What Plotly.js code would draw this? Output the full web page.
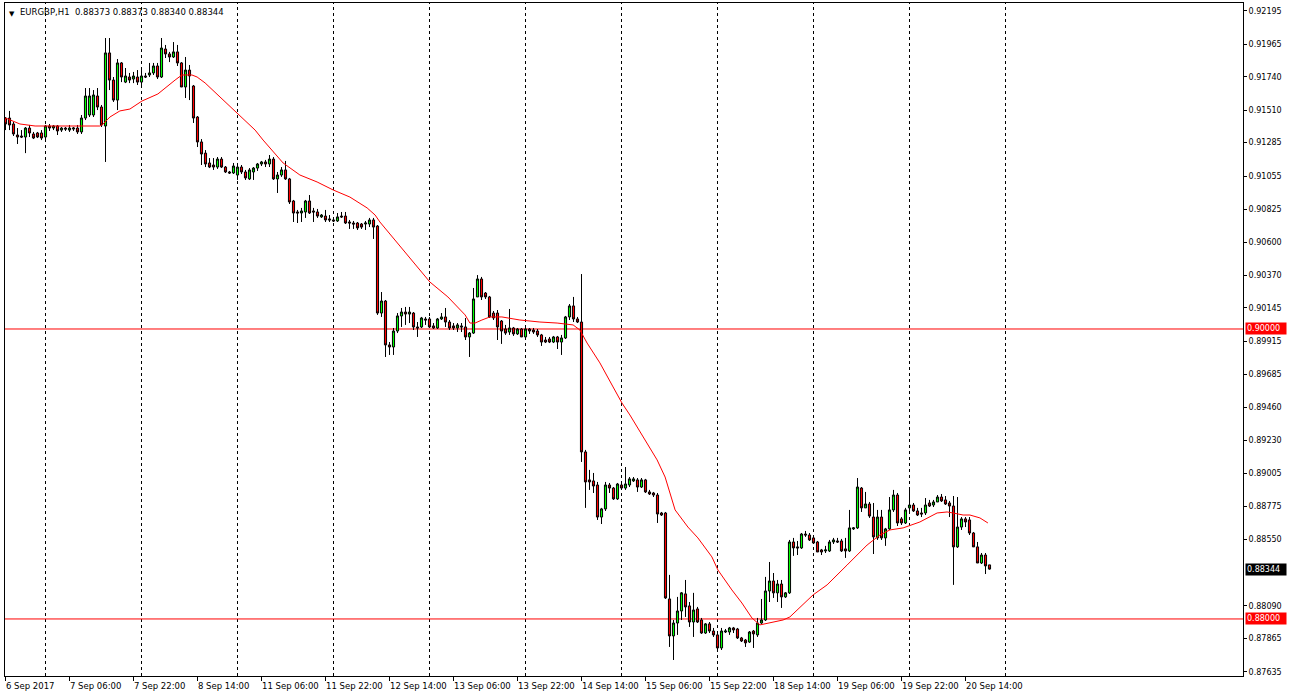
<!DOCTYPE html>
<html><head><meta charset="utf-8">
<script src="https://cdn.plot.ly/plotly-3.0.1.min.js"></script>
<style>html,body{margin:0;padding:0;background:#fff;}#chart{width:1289px;height:698px;}</style>
</head><body><div id="chart"></div>
<script>
const symbol = "EURGBP,H1";

const open = [.91455,.91455,.91414,.91338,.91331,.91324,.91386,.91345,.91352,.91352,.91324,.91400,.91386,.91400,.91372,.91386,.91372,.91379,.91386,.91359,
.91455,.91476,.91476,.91607,.91531,.91400,.91904,.91717,.91579,.91835,.91703,.91738,.91724,.91738,.91703,.91745,.91752,.91766,.91814,.91738,
.91931,.91897,.91876,.91911,.91835,.91669,.91786,.91676,.91462,.91290,.91213,.91145,.91131,.91117,.91172,.91117,.91083,.91076,.91062,.91117,
.91083,.91035,.91083,.91110,.91138,.91152,.91138,.91172,.91035,.91062,.91097,.91035,.90883,.90807,.90800,.90807,.90883,.90814,.90807,.90773,
.90779,.90759,.90752,.90745,.90779,.90779,.90738,.90731,.90731,.90724,.90724,.90724,.90752,.90710,.90110,.90193,.89890,.89876,.89986,.90090,
.90117,.90103,.90110,.90014,.90014,.90069,.90069,.90021,.90007,.90069,.90083,.90048,.90021,.90007,.90021,.90014,.89945,.89972,.90221,.90345,
.90248,.90221,.90110,.90110,.90055,.90000,.89979,.90007,.89966,.90000,.89945,.90000,.89993,.89986,.89959,.89924,.89931,.89910,.89945,.89910,
.89938,.90083,.90159,.90069,.90048,.89152,.88959,.88952,.88924,.88703,.88759,.88924,.88903,.88828,.88924,.88903,.88924,.88952,.88959,.88910,
.88959,.88876,.88869,.88855,.88731,.88731,.88138,.87883,.87972,.88055,.88173,.88090,.87979,.88069,.87993,.87903,.87966,.87917,.87890,.87800,
.87910,.87910,.87938,.87931,.87869,.87855,.87841,.87917,.87890,.87972,.87993,.88193,.88262,.88180,.88241,.88152,.88180,.88531,.88497,.88490,
.88586,.88579,.88559,.88531,.88476,.88469,.88469,.88531,.88538,.88538,.88483,.88469,.88621,.88628,.88903,.88766,.88793,.88703,.88559,.88703,
.88559,.88621,.88752,.88855,.88690,.88662,.88766,.88786,.88745,.88731,.88731,.88800,.88786,.88807,.88841,.88821,.88800,.88779,.88497,.88634,
.88690,.88683,.88593,.88497,.88386,.88441,.88373];

const high = [.91462,.91504,.91428,.91386,.91372,.91393,.91407,.91359,.91359,.91372,.91407,.91414,.91407,.91407,.91393,.91393,.91407,.91393,.91407,.91476,
.91662,.91662,.91648,.91662,.91545,.92007,.92007,.91738,.91862,.91841,.91800,.91766,.91773,.91786,.91786,.91766,.91835,.91835,.91835,.92007,
.91959,.91911,.91979,.91959,.91841,.91876,.91821,.91683,.91469,.91310,.91234,.91179,.91179,.91186,.91186,.91124,.91090,.91145,.91145,.91131,
.91097,.91110,.91117,.91145,.91159,.91166,.91200,.91186,.91083,.91117,.91159,.91042,.90890,.90821,.90835,.90890,.90924,.90835,.90828,.90793,
.90821,.90786,.90766,.90800,.90807,.90807,.90752,.90745,.90738,.90731,.90745,.90766,.90766,.90717,.90255,.90200,.89910,.90007,.90110,.90145,
.90152,.90152,.90117,.90048,.90083,.90083,.90083,.90041,.90076,.90110,.90145,.90062,.90041,.90041,.90041,.90076,.89979,.90283,.90372,.90359,
.90255,.90228,.90124,.90131,.90062,.90028,.90138,.90014,.90007,.90007,.90014,.90007,.90007,.90000,.89966,.89945,.89945,.89952,.89952,.89959,
.90090,.90172,.90221,.90083,.90379,.89166,.89028,.89007,.88945,.88766,.88945,.88938,.88910,.88938,.88938,.89048,.88979,.88979,.88972,.88972,
.88966,.88890,.88876,.88869,.88738,.88738,.88304,.87993,.88152,.88186,.88269,.88117,.88180,.88083,.88007,.87972,.87979,.87938,.87903,.87938,
.87931,.87945,.87945,.87938,.87876,.87862,.87917,.87924,.88007,.88138,.88290,.88393,.88317,.88269,.88269,.88186,.88545,.88559,.88538,.88593,
.88607,.88593,.88579,.88538,.88483,.88504,.88545,.88559,.88559,.88552,.88559,.88752,.88634,.88972,.88910,.88876,.88807,.88800,.88752,.88752,
.88628,.88841,.88890,.88869,.88703,.88766,.88890,.88800,.88766,.88766,.88834,.88821,.88821,.88855,.88862,.88848,.88814,.88848,.88841,.88703,
.88703,.88703,.88600,.88531,.88455,.88455,.88373];

const low = [.91372,.91372,.91331,.91276,.91317,.91213,.91324,.91310,.91317,.91303,.91303,.91366,.91372,.91338,.91359,.91366,.91359,.91366,.91345,.91345,
.91441,.91462,.91462,.91510,.91393,.91152,.91648,.91566,.91510,.91703,.91696,.91696,.91696,.91683,.91683,.91731,.91738,.91752,.91724,.91731,
.91869,.91841,.91869,.91814,.91669,.91593,.91579,.91421,.91255,.91131,.91117,.91110,.91097,.91104,.91110,.91076,.91069,.91069,.91028,.91069,
.91028,.91028,.91028,.91090,.91124,.91117,.91117,.91028,.90938,.91049,.91028,.90862,.90738,.90731,.90738,.90766,.90793,.90738,.90766,.90766,
.90738,.90738,.90738,.90738,.90766,.90724,.90690,.90690,.90683,.90690,.90683,.90703,.90621,.90097,.90083,.89807,.89821,.89821,.89972,.90014,
.90028,.90041,.89993,.89945,.90007,.90028,.90007,.90000,.90000,.90062,.90014,.89993,.89993,.89979,.89979,.89924,.89807,.89966,.90221,.90200,
.90207,.90076,.90062,.89924,.89897,.89959,.89959,.89952,.89959,.89945,.89945,.89966,.89966,.89945,.89883,.89903,.89903,.89903,.89862,.89821,
.89931,.90062,.90048,.90041,.89083,.88766,.88890,.88869,.88683,.88655,.88745,.88869,.88821,.88821,.88890,.88890,.88910,.88945,.88876,.88903,
.88869,.88855,.88841,.88662,.88710,.88138,.87807,.87717,.87890,.87993,.88014,.87945,.87876,.87972,.87897,.87897,.87903,.87876,.87786,.87786,
.87903,.87890,.87903,.87862,.87841,.87807,.87835,.87800,.87876,.87966,.87986,.88117,.88145,.88117,.88076,.88145,.88173,.88435,.88441,.88483,
.88566,.88538,.88517,.88462,.88441,.88455,.88462,.88517,.88524,.88462,.88421,.88462,.88614,.88621,.88738,.88766,.88697,.88448,.88545,.88545,
.88504,.88614,.88738,.88641,.88648,.88655,.88738,.88738,.88710,.88703,.88717,.88772,.88772,.88807,.88807,.88786,.88703,.88235,.88490,.88614,
.88634,.88579,.88497,.88386,.88379,.88310,.88340];

const close = [.91414,.91407,.91345,.91324,.91324,.91386,.91352,.91317,.91324,.91317,.91400,.91386,.91400,.91366,.91386,.91379,.91386,.91386,.91359,.91455,
.91607,.91607,.91614,.91531,.91407,.91904,.91717,.91579,.91835,.91738,.91745,.91717,.91745,.91703,.91745,.91738,.91766,.91814,.91738,.91938,
.91897,.91876,.91911,.91835,.91669,.91786,.91745,.91455,.91290,.91207,.91138,.91117,.91117,.91172,.91117,.91083,.91076,.91124,.91117,.91083,
.91042,.91097,.91110,.91138,.91152,.91138,.91172,.91035,.91062,.91097,.91035,.90876,.90800,.90800,.90814,.90883,.90800,.90807,.90779,.90786,
.90752,.90752,.90745,.90773,.90773,.90731,.90731,.90724,.90697,.90703,.90731,.90752,.90703,.90110,.90193,.89890,.89876,.89986,.90090,.90117,
.90103,.90117,.90014,.90007,.90076,.90062,.90014,.90007,.90069,.90083,.90048,.90007,.90007,.90028,.90014,.89945,.89972,.90207,.90345,.90221,
.90221,.90083,.90076,.90014,.89986,.89972,.90007,.89966,.90000,.89945,.90000,.89986,.89979,.89959,.89910,.89910,.89910,.89945,.89910,.89938,
.90083,.90159,.90069,.90048,.89152,.88945,.88945,.88917,.88703,.88759,.88924,.88903,.88828,.88931,.88903,.88931,.88966,.88966,.88910,.88959,
.88876,.88862,.88855,.88724,.88717,.88145,.87883,.87972,.88055,.88180,.88083,.87979,.88062,.87979,.87903,.87966,.87917,.87890,.87800,.87917,
.87917,.87938,.87924,.87869,.87848,.87835,.87910,.87897,.87972,.87993,.88193,.88262,.88180,.88241,.88152,.88180,.88531,.88490,.88490,.88586,
.88579,.88545,.88524,.88462,.88462,.88476,.88531,.88545,.88531,.88469,.88469,.88628,.88628,.88910,.88766,.88793,.88710,.88566,.88703,.88559,
.88621,.88752,.88855,.88662,.88662,.88752,.88786,.88745,.88717,.88724,.88786,.88779,.88807,.88841,.88814,.88793,.88779,.88497,.88634,.88690,
.88669,.88593,.88497,.88386,.88441,.88366,.88344];

// moving average: bar position and value
const maIdx = [0,3.6,7.4,13.6,23.6,24.4,26.1,28.6,31.1,34.1,38.1,42.4,44.1,46.6,47.9,49.9,53.1,58.1,62.4,64.4,69.4,73.6,77.9,81.9,86.1,90.4,92.4,93.6,
101.6,106.1,110.6,114.9,116.1,117.4,119.1,121.1,124.1,128.6,133.6,137.9,141.9,143.6,145.4,148.6,151.9,154.1,156.1,162.9,164.9,167.4,170.6,173.1,
176.6,178.1,181.6,184.1,186.6,188.6,194.4,196.1,201.9,205.4,210.4,212.9,215.4,218.6,221.1,224.4,228.6,232.9,235.4,236.9,239.4,241.1,243.6,245.6];
const maVal = [.91455,.91414,.91400,.91400,.91400,.91414,.91462,.91504,.91517,.91572,.91621,.91717,.91752,.91752,.91738,.91697,.91614,.91490,.91372,.91303,
.91145,.91062,.91014,.90959,.90910,.90835,.90786,.90738,.90476,.90324,.90221,.90097,.90041,.90041,.90062,.90083,.90083,.90062,.90048,.90041,.90028,
.89993,.89903,.89766,.89600,.89490,.89407,.89097,.88979,.88752,.88634,.88559,.88428,.88338,.88200,.88110,.88007,.87959,.87993,.88014,.88166,.88235,
.88372,.88441,.88510,.88579,.88614,.88628,.88669,.88731,.88738,.88731,.88717,.88717,.88697,.88662];

const tickIdx = [0,16,32,48,64,80,96,112,128,144,160,176,192,208,224,240];
const tickLabels = ["6 Sep 2017","7 Sep 06:00","7 Sep 22:00","8 Sep 14:00","11 Sep 06:00","11 Sep 22:00","12 Sep 14:00","13 Sep 06:00",
"13 Sep 22:00","14 Sep 14:00","15 Sep 06:00","15 Sep 22:00","18 Sep 14:00","19 Sep 06:00","19 Sep 22:00","20 Sep 14:00"];
const daySepIdx = [10,34,58,82,106,130,154,178,202,226,250];
const yTicks = [0.92195,0.91965,0.91740,0.91510,0.91285,0.91055,0.90825,0.90600,0.90370,0.90145,0.89915,0.89685,0.89460,0.89230,0.89005,0.88775,0.88550,0.88090,0.87865,0.87635];
const hLevels = [0.90000, 0.88000];

const xIdx = open.map((_, i) => i);
const n = close.length;
const FONT = "DejaVu Sans";

const traces = [
  {type:'scatter', mode:'lines', x: maIdx, y: maVal, line:{color:'#FF0000', width:1}, hoverinfo:'skip'},
  {type:'candlestick', x: xIdx, open, high, low, close, whiskerwidth:0,
   increasing:{line:{color:'#000000', width:1}, fillcolor:'#00FF00'},
   decreasing:{line:{color:'#000000', width:1}, fillcolor:'#FF0000'},
   hoverinfo:'skip'}
];

const shapes = [];
daySepIdx.forEach(d => shapes.push({type:'line', xref:'x', yref:'paper', x0:d, x1:d, y0:0, y1:1, layer:'below',
  line:{color:'#000000', width:1, dash:'3px,3px'}}));
hLevels.forEach(v => shapes.push({type:'line', xref:'paper', yref:'y', x0:0, x1:1, y0:v, y1:v, layer:'below',
  line:{color:'#FF0000', width:1}}));

const annotations = [];
tickIdx.forEach((t, k) => annotations.push({xref:'x', yref:'paper', x:t, y:0, xanchor:'left', yanchor:'top', xshift:-2, yshift:-3,
  text: tickLabels[k], showarrow:false, font:{family:FONT, size:8.5, color:'#000'}}));
hLevels.forEach(v => annotations.push({xref:'paper', yref:'y', x:1, y:v, xanchor:'left', yanchor:'middle', xshift:2,
  text: v.toFixed(5), showarrow:false, bgcolor:'#FF0000', borderpad:1, width:38, align:'left',
  font:{family:FONT, size:8, color:'#FFFFFF'}}));
annotations.push({xref:'paper', yref:'y', x:1, y:close[n-1], xanchor:'left', yanchor:'middle', xshift:2,
  text: close[n-1].toFixed(5), showarrow:false, bgcolor:'#000000', borderpad:1, width:38, align:'left',
  font:{family:FONT, size:8, color:'#FFFFFF'}});
annotations.push({xref:'paper', yref:'paper', x:0, y:1, xanchor:'left', yanchor:'top', xshift:2, yshift:-5,
  text:'▼', showarrow:false, font:{family:FONT, size:7, color:'#000'}});
annotations.push({xref:'paper', yref:'paper', x:0, y:1, xanchor:'left', yanchor:'top', xshift:13, yshift:-2,
  text: symbol + '  ' + [open[n-1], high[n-1], low[n-1], close[n-1]].map(v => v.toFixed(5)).join(' '),
  showarrow:false, font:{family:FONT, size:8.5, color:'#000'}});

const layout = {
  width:1289, height:698,
  margin:{l:5, r:46, t:3, b:22, pad:0},
  paper_bgcolor:'#FFFFFF', plot_bgcolor:'#FFFFFF',
  showlegend:false, boxgap:0.25, hovermode:false,
  font:{family:FONT, size:8, color:'#000'},
  xaxis:{range:[-0.125, 309.375], showgrid:false, zeroline:false, showline:true, mirror:true, linecolor:'#000', linewidth:1,
    tickvals: tickIdx, ticktext: tickIdx.map(() => ''), ticks:'outside', ticklen:4, tickcolor:'#000',
    rangeslider:{visible:false}, fixedrange:true},
  yaxis:{range:[0.876066, 0.922484], side:'right', showgrid:false, zeroline:false, showline:true, mirror:true, linecolor:'#000', linewidth:1,
    tickvals: yTicks, ticktext: yTicks.map(v => v.toFixed(5)), ticks:'outside', ticklen:3, tickcolor:'#000',
    tickfont:{family:FONT, size:8, color:'#000'}, fixedrange:true},
  shapes, annotations
};

Plotly.newPlot('chart', traces, layout, {displayModeBar:false, staticPlot:true});
</script>
</body></html>
